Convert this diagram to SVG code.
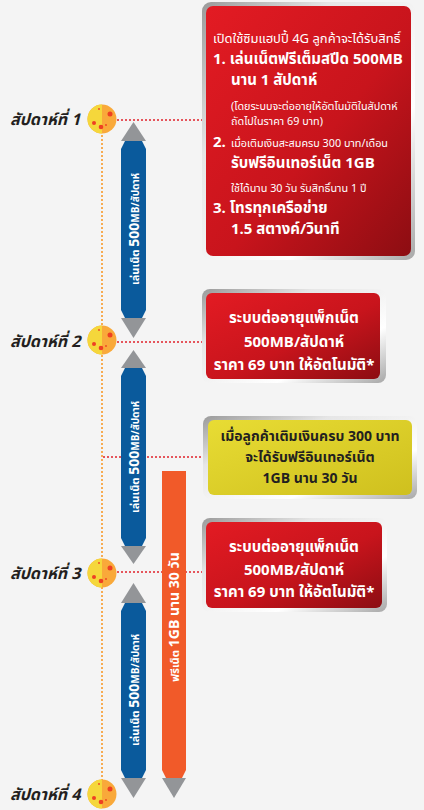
<svg xmlns="http://www.w3.org/2000/svg" width="424" height="810" viewBox="0 0 424 810">
<defs>
<linearGradient id="red" x1="0" y1="0" x2="1" y2="1"><stop offset="0" stop-color="#e31b23"/><stop offset="0.55" stop-color="#c8141c"/><stop offset="1" stop-color="#8c0d12"/></linearGradient>
<linearGradient id="yel" x1="0" y1="0" x2="1" y2="1"><stop offset="0" stop-color="#e8dc34"/><stop offset="1" stop-color="#cfc01e"/></linearGradient>
<linearGradient id="frame" x1="0" y1="0" x2="1" y2="1"><stop offset="0" stop-color="#9a9a9a"/><stop offset="0.3" stop-color="#e6e6e6"/><stop offset="0.7" stop-color="#ffffff"/><stop offset="1" stop-color="#a8a8a8"/></linearGradient>
</defs>
<style>
.bg{fill:#f4f4f4}
.rd{stroke:#e0202a;stroke-width:1.5;stroke-dasharray:2 2;fill:none}
.od{stroke:#f7941d;stroke-width:1.5;stroke-dasharray:2 2;fill:none}
.blue{fill:#0a5a9c}
.org{fill:#f15a29}
.gray{fill:#939598}
.frm{fill:url(#frame)}
.redb{fill:url(#red)}
.yelb{fill:url(#yel)}
text{font-family:"Noto Sans Thai","Noto Sans","Liberation Sans",sans-serif;font-weight:bold}
.wk{font-size:16px;font-style:italic;fill:#231f20}
.w{fill:#ffffff}
.d{fill:#231f20}
.big{font-size:15px}
.ybig{font-size:14px}
.sm{font-size:10.8px;font-weight:normal}
.md{font-size:13px;font-weight:normal}
.c{text-anchor:middle}
</style>
<rect class="bg" x="0" y="0" width="424" height="810"/>
<g id="connectors">
<line class="od" x1="102" y1="119" x2="102" y2="795"/>
<line class="rd" x1="117" y1="120" x2="206" y2="120"/>
<line class="rd" x1="117" y1="342" x2="203" y2="342"/>
<line class="rd" x1="103" y1="457" x2="204" y2="457"/>
<line class="rd" x1="117" y1="572" x2="203" y2="572"/>
</g>
<g id="moon1"><circle cx="102" cy="119" r="14.5" fill="#f9a93a"/><path d="M102 104.5 A14.5 14.5 0 0 0 102 133.5 Z" fill="#f5d73b"/><circle cx="110" cy="114" r="2.5" fill="#ee4023"/><circle cx="94" cy="123" r="2" fill="#ee4023"/><circle cx="101" cy="127" r="2.3" fill="#ee4023"/><circle cx="106" cy="125" r="0.9" fill="#ee4023"/><circle cx="99" cy="109" r="0.9" fill="#ee4023"/></g>
<g id="moon2"><circle cx="102" cy="340" r="14.5" fill="#f9a93a"/><path d="M102 325.5 A14.5 14.5 0 0 0 102 354.5 Z" fill="#f5d73b"/><circle cx="110" cy="335" r="2.5" fill="#ee4023"/><circle cx="94" cy="344" r="2" fill="#ee4023"/><circle cx="101" cy="348" r="2.3" fill="#ee4023"/><circle cx="106" cy="346" r="0.9" fill="#ee4023"/><circle cx="99" cy="330" r="0.9" fill="#ee4023"/></g>
<g id="moon3"><circle cx="102" cy="573" r="14.5" fill="#f9a93a"/><path d="M102 558.5 A14.5 14.5 0 0 0 102 587.5 Z" fill="#f5d73b"/><circle cx="110" cy="568" r="2.5" fill="#ee4023"/><circle cx="94" cy="577" r="2" fill="#ee4023"/><circle cx="101" cy="581" r="2.3" fill="#ee4023"/><circle cx="106" cy="579" r="0.9" fill="#ee4023"/><circle cx="99" cy="563" r="0.9" fill="#ee4023"/></g>
<g id="moon4"><circle cx="102" cy="794" r="14.5" fill="#f9a93a"/><path d="M102 779.5 A14.5 14.5 0 0 0 102 808.5 Z" fill="#f5d73b"/><circle cx="110" cy="789" r="2.5" fill="#ee4023"/><circle cx="94" cy="798" r="2" fill="#ee4023"/><circle cx="101" cy="802" r="2.3" fill="#ee4023"/><circle cx="106" cy="800" r="0.9" fill="#ee4023"/><circle cx="99" cy="784" r="0.9" fill="#ee4023"/></g>
<g id="week1"><text class="wk" x="10" y="125">สัปดาห์ที่ 1</text></g>
<g id="week2"><text class="wk" x="10" y="347">สัปดาห์ที่ 2</text></g>
<g id="week3"><text class="wk" x="10" y="579">สัปดาห์ที่ 3</text></g>
<g id="week4"><text class="wk" x="10" y="800">สัปดาห์ที่ 4</text></g>
<g id="bar1">
<polygon class="blue" points="121,149 125,141 142,141 146,149 146,310 142,318 125,318 121,310"/>
<polygon class="gray" points="121,141 146,141 133.5,122"/>
<polygon class="gray" points="121,318 146,318 133.5,338"/>
<text class="w c" transform="translate(133.5,229) rotate(-90)" y="5"><tspan font-size="11">เล่นเน็ต </tspan><tspan font-size="14">500</tspan><tspan font-size="10">MB/สัปดาห์</tspan></text>
</g>
<g id="bar2">
<polygon class="blue" points="121,376 125,368 142,368 146,376 146,538 142,546 125,546 121,538"/>
<polygon class="gray" points="121,368 146,368 133.5,350"/>
<polygon class="gray" points="121,546 146,546 133.5,564"/>
<text class="w c" transform="translate(133.5,457) rotate(-90)" y="5"><tspan font-size="11">เล่นเน็ต </tspan><tspan font-size="14">500</tspan><tspan font-size="10">MB/สัปดาห์</tspan></text>
</g>
<g id="bar3">
<polygon class="blue" points="121,611 125,603 142,603 146,611 146,770 142,778 125,778 121,770"/>
<polygon class="gray" points="121,603 146,603 133.5,583"/>
<polygon class="gray" points="121,778 146,778 133.5,798"/>
<text class="w c" transform="translate(133.5,690) rotate(-90)" y="5"><tspan font-size="11">เล่นเน็ต </tspan><tspan font-size="14">500</tspan><tspan font-size="10">MB/สัปดาห์</tspan></text>
</g>
<g id="bar4">
<polygon class="org" points="162,471 186,471 186,770 182,778 166,778 162,770"/>
<polygon class="gray" points="162,778 186,778 174,798"/>
<text class="w c" transform="translate(174,617) rotate(-90)" y="5"><tspan font-size="11">ฟรีเน็ต </tspan><tspan font-size="14">1GB นาน 30 วัน</tspan></text>
</g>
<g id="box1">
<rect class="frm" x="202" y="2" width="213" height="258" rx="9"/>
<rect class="redb" x="206" y="6" width="205" height="250" rx="7"/>
<text class="w md" x="213" y="43">เปิดใช้ซิมแฮปปี้ 4G ลูกค้าจะได้รับสิทธิ์</text>
<text class="w big" x="213" y="64">1. เล่นเน็ตฟรีเต็มสปีด 500MB</text>
<text class="w big" x="231" y="85">นาน 1 สัปดาห์</text>
<text class="w sm" x="231" y="110">(โดยระบบจะต่ออายุให้อัตโนมัติในสัปดาห์</text>
<text class="w sm" x="231" y="125">ถัดไปในราคา 69 บาท)</text>
<text class="w big" x="213" y="147">2.</text>
<text class="w sm" x="231" y="147">เมื่อเติมเงินสะสมครบ 300 บาท/เดือน</text>
<text class="w big" x="231" y="168">รับฟรีอินเทอร์เน็ต 1GB</text>
<text class="w sm" x="231" y="192">ใช้ได้นาน 30 วัน รับสิทธิ์นาน 1 ปี</text>
<text class="w big" x="213" y="213">3. โทรทุกเครือข่าย</text>
<text class="w big" x="231" y="234">1.5 สตางค์/วินาที</text>
</g>
<g id="box2">
<rect class="frm" x="202" y="289" width="184" height="94" rx="8"/>
<rect class="redb" x="206" y="293" width="174" height="86" rx="6"/>
<text class="w big c" x="294" y="323">ระบบต่ออายุแพ็กเน็ต</text>
<text class="w big c" x="294" y="347">500MB/สัปดาห์</text>
<text class="w big c" x="294" y="370">ราคา 69 บาท ให้อัตโนมัติ*</text>
</g>
<g id="box3">
<rect class="frm" x="203" y="416" width="214" height="83" rx="8"/>
<rect class="yelb" x="208" y="420" width="204" height="75" rx="6"/>
<text class="d ybig c" x="310" y="441">เมื่อลูกค้าเติมเงินครบ 300 บาท</text>
<text class="d ybig c" x="310" y="462">จะได้รับฟรีอินเทอร์เน็ต</text>
<text class="d ybig c" x="310" y="483">1GB นาน 30 วัน</text>
</g>
<g id="box4">
<rect class="frm" x="202" y="518" width="185" height="94" rx="8"/>
<rect class="redb" x="206" y="522" width="176" height="86" rx="6"/>
<text class="w big c" x="294" y="552">ระบบต่ออายุแพ็กเน็ต</text>
<text class="w big c" x="294" y="575">500MB/สัปดาห์</text>
<text class="w big c" x="294" y="597">ราคา 69 บาท ให้อัตโนมัติ*</text>
</g>
</svg>
